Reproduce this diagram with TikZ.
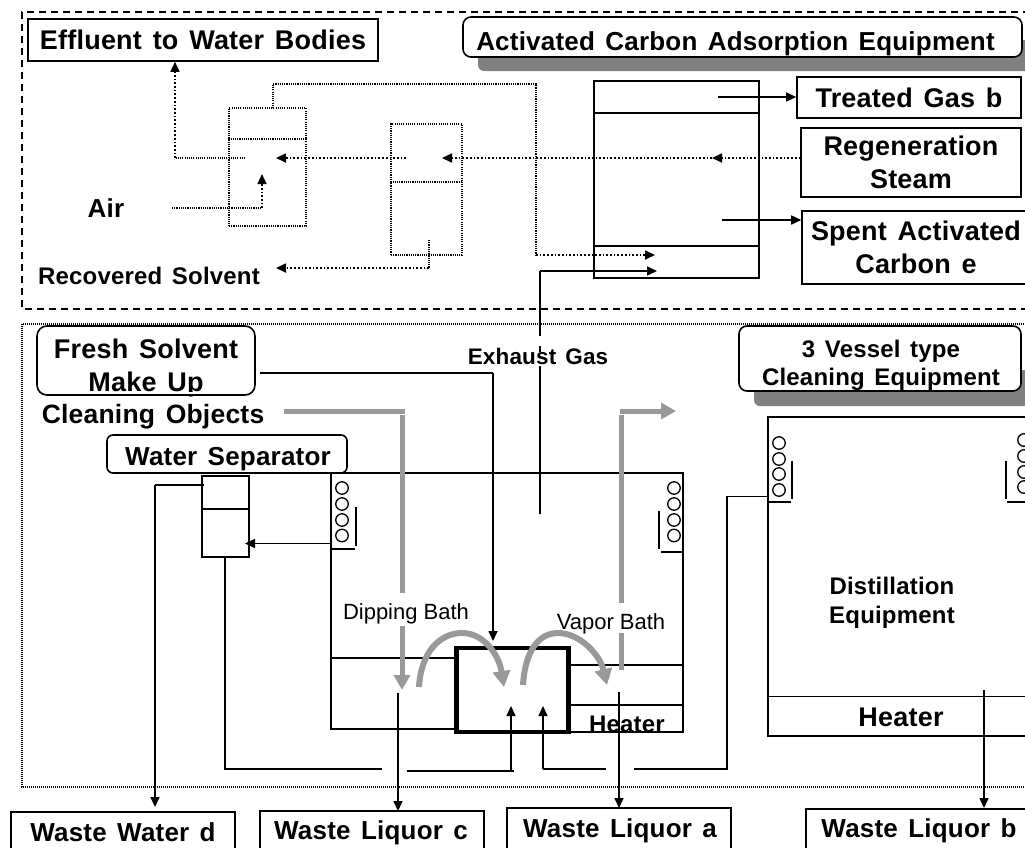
\documentclass[tikz,border=0pt]{standalone}
\usepackage{fontspec}
\setmainfont{Liberation Sans}
\newfontfamily\labelfont[LetterSpace=0.8,WordSpace=1.4]{Liberation Sans}
\usetikzlibrary{arrows.meta}
\definecolor{flowgray}{RGB}{153, 153, 153}
\definecolor{shadowgray}{RGB}{128, 128, 128}
\tikzset{
  lab/.style 2 args={font=\labelfont\bfseries\fontsize{#1}{#2}\selectfont, inner sep=0pt, align=center},
  plainlab/.style={font=\fontsize{22}{26}\selectfont, inner sep=0pt},
  plainbox/.style={draw, line width=1.6pt, fill=white, inner sep=0pt},
  roundbox/.style={plainbox, rounded corners=8pt},
  vessel/.style={draw, line width=1.6pt, inner sep=0pt},
  dotvessel/.style={draw, line width=1.1pt, inner sep=0pt, dash pattern=on 1.1pt off 1.1pt},
  pipe/.style={line width=1.6pt},
  flow/.style={line width=1.6pt, -{Triangle[length=10pt,width=9pt]}},
  thindot/.style={line width=1.1pt, dash pattern=on 1.1pt off 1.1pt},
  flowdot/.style={line width=1.7pt, dash pattern=on 1.7pt off 2pt, -{Triangle[length=10pt,width=9pt]}},
  graypipe/.style={flowgray, line width=5pt},
  grayflow/.style={graypipe, -{Triangle[length=15pt,width=16pt]}},
  grayarc/.style={flowgray, line width=6pt, -{Triangle[length=16pt,width=17pt]}},
  coil/.style={draw, circle, line width=1.3pt, minimum size=12.5pt, inner sep=0pt},
}

\begin{document}
\begin{tikzpicture}[x=1pt, y=-1pt]
  \useasboundingbox (0,0) rectangle (1025,847);
  \clip (0,0) rectangle (1025,847);
  % Frames of the two plant sections
  \draw[line width=1.1pt, dash pattern=on 7pt off 5pt] (1030,12) -- (22,12) -- (22,309) -- (1030,309);
  \draw[line width=1.1pt, dash pattern=on 1pt off 1pt] (1030,324) -- (22,324) -- (22,787) -- (1030,787);
  % Section titles with their shadows
  \fill[shadowgray, rounded corners=6pt] (478,40) rectangle (1040,71);
  \node[roundbox, minimum width=559pt, minimum height=40pt] (activated) at (742.5,37) {};
  \node[lab={26}{33}] (activatedtext) at (735.5,43.5) {Activated Carbon Adsorption Equipment};
  \fill[shadowgray, rounded corners=6pt] (754,370) rectangle (1040,406);
  \node[roundbox, minimum width=282pt, minimum height=65pt] (vesseltype) at (880,358.5) {};
  \node[lab={24}{28}] (vesseltypetext) at (881,365) {3 Vessel type\\Cleaning Equipment};
  % Outlet boxes, upper section
  \node[plainbox, lab={27}{33}, minimum width=350pt, minimum height=42pt] (effluent) at (203,40) {Effluent to Water Bodies};
  \node[plainbox, lab={27}{33}, minimum width=224pt, minimum height=41pt] (treated) at (909,97.5) {Treated Gas b};
  \node[plainbox, lab={27}{33}, minimum width=220pt, minimum height=69pt] (regen) at (911,162.5) {Regeneration\\[0.3pt]Steam};
  \node[plainbox, lab={27}{33}, minimum width=228pt, minimum height=73pt] (spent) at (916,247.5) {Spent Activated\\Carbon e};
  % Adsorber and the two dotted vessels
  \node[vessel, minimum width=165pt, minimum height=197pt] (adsorber) at (676.5,179.5) {};
  \draw[pipe] (adsorber.west |- 0,113) -- (adsorber.east |- 0,113);
  \draw[pipe] (adsorber.west |- 0,246) -- (adsorber.east |- 0,246);
  \node[dotvessel, minimum width=77pt, minimum height=118pt] (scrubber) at (267.5,167) {};
  \draw[thindot] (scrubber.west |- 0,139) -- (scrubber.east |- 0,139);
  \node[dotvessel, minimum width=71pt, minimum height=131pt] (condenser) at (426.5,189.5) {};
  \draw[thindot] (condenser.west |- 0,182) -- (condenser.east |- 0,182);
  % Free labels, upper section
  \node[lab={26}{30}] (air) at (106,208) {Air};
  \node[lab={24}{28}] (recovered) at (149,276) {Recovered Solvent};
  % Dotted gas and steam lines
  \coordinate (scrubout) at (245,158);
  \coordinate (scrubin) at (276,158);
  \coordinate (condout) at (406,158);
  \coordinate (condin) at (442,158);
  \coordinate (regentip) at (712,158);
  \draw[flowdot] (regen.west |- regentip) -- (regentip);
  \draw[flowdot] (regentip) -- (condin);
  \draw[flowdot] (condout) -- (scrubin);
  \draw[thindot] (scrubout) -- (175,158);
  \draw[flowdot] (175,158) -- (effluent.south -| 175,0);
  \coordinate (airend) at (172,208);
  \draw[thindot] (airend) -- (262,208);
  \draw[flowdot] (262,208) -- (262,174);
  \coordinate (solventtop) at (429,240);
  \coordinate (solventtip) at (276,268);
  \draw[thindot] (solventtop) -- (429,268);
  \draw[flowdot] (429,268) -- (solventtip);
  \coordinate (recycletip) at (655,255);
  \draw[thindot] (273,108) -- (273,84) -- (536,84) -- (536,255);
  \draw[flowdot] (536,255) -- (recycletip);
  % Solid lines at the adsorber
  \coordinate (treatedfrom) at (718,97);
  \draw[flow] (treatedfrom) -- (treated.west |- treatedfrom);
  \coordinate (spentfrom) at (722,220);
  \draw[flow] (spentfrom) -- (spent.west |- spentfrom);
  \coordinate (exhaustbase) at (540,514);
  \coordinate (exhausttop) at (540,271);
  \coordinate (exhausttip) at (657,271);
  \draw[pipe] (exhaustbase) -- (540,366);
  \draw[pipe] (540,336) -- (exhausttop);
  \draw[pipe] (540,346) -- (540,352);
  \draw[flow] (exhausttop) -- (exhausttip);
  \node[lab={22.5}{26}] (exhaust) at (538,356) {Exhaust Gas};
  % Cleaning tank
  \node[vessel, minimum width=352pt, minimum height=259pt] (tank) at (507,602.5) {};
  \fill[white] (329,730) rectangle (455,740);
  \draw[pipe] (330.2,729) -- (456,729);
  \draw[pipe] (331,658) -- (456,658);
  \draw[pipe] (570,665) -- (683,665);
  \draw[pipe] (570,705) -- (683,705);
  \node[lab={24}{28}] (tankheater) at (627,724) {Heater};
  \node[plainlab] (dipping) at (406,614) {Dipping Bath};
  \node[plainlab] (vapor) at (611,624) {Vapor Bath};
  % Coils of the tank
  \foreach \y/\n in {488/a, 504/b, 520/c, 535.5/d} {
    \node[coil] (coilL\n) at (342,\y) {};
    \node[coil] (coilR\n) at (674,\y) {};
  }
  \draw[pipe] (356,507) -- (356,546);
  \draw[pipe] (331,549) -- (355,549);
  \draw[pipe] (659,511) -- (659,549);
  \draw[pipe] (661,552) -- (683,552);
  % Heavy centre bath
  \node[draw, line width=4.5pt, minimum width=112pt, minimum height=84pt, inner sep=0pt] (bath) at (512.5,690) {};
  % Water separator
  \node[roundbox, lab={26}{30}, minimum width=240pt, minimum height=38pt, rounded corners=6pt] (separatorbox) at (227,454) {};
  \node[lab={26}{30}] (separatortext) at (228,459) {Water Separator};
  \node[vessel, minimum width=47pt, minimum height=81pt] (separator) at (225.5,516.5) {};
  \draw[pipe] (separator.west |- 0,509) -- (separator.east |- 0,509);
  % Fresh solvent and cleaning objects
  \node[roundbox, lab={27}{33}, minimum width=218pt, minimum height=69pt, rounded corners=10pt] (fresh) at (146,360.5) {};
  \node[lab={27}{33}] (freshtext) at (146,368.5) {Fresh Solvent\\Make Up};
  \fill[white] (60,392) rectangle (240,394);
  \coordinate (freshout) at (260,373);
  \draw[pipe] (freshout) -- (493,373);
  \draw[flow] (493,373) -- (493,641);
  \node[lab={26.5}{33}] (objects) at (153,417) {Cleaning Objects};
  % Work path through the baths
  \draw[graypipe] (284,411) -- (405,411);
  \draw[graypipe] (402,415) -- (402,593);
  \draw[grayflow] (402,626) -- (402,690);
  \draw[graypipe] (621,670) -- (621,633);
  \draw[graypipe] (621,603) -- (621,415);
  \draw[grayflow] (620,411) -- (676,411);
  \draw[grayarc] (419,687) .. controls (421,652) and (440,633) .. (462,633) .. controls (484,633) and (499,655) .. (504,687);
  \draw[grayarc] (523,685) .. controls (525,652) and (538,633) .. (558,633) .. controls (580,633) and (600,655) .. (607,685);
  % Distillation equipment
  \node[vessel, minimum width=280pt, minimum height=319pt] (still) at (908,576.5) {};
  \draw[pipe] (768,696.5) -- (1030,696.5);
  \node[lab={24}{29}] (stilltext) at (892,603) {Distillation\\Equipment};
  \node[lab={27}{33}] (stillheater) at (901,717) {Heater};
  \foreach \y/\n in {443/a, 459/b, 474/c, 490/d} {
    \node[coil] (coilS\n) at (779,\y) {};
  }
  \foreach \y/\n in {440/a, 456/b, 472/c, 487/d} {
    \node[coil] (coilT\n) at (1024,\y) {};
  }
  \draw[pipe] (792,460.5) -- (792,499);
  \draw[pipe] (769,502) -- (791,502);
  \draw[pipe] (1006,460.5) -- (1006,499);
  \draw[pipe] (1007,502) -- (1026,502);
  % Waste boxes along the bottom
  \node[plainbox, minimum width=224pt, minimum height=40pt] (wasted) at (123,832) {};
  \node[plainbox, minimum width=224pt, minimum height=42pt] (wastec) at (372,832) {};
  \node[plainbox, minimum width=224pt, minimum height=42pt] (wastea) at (619,829) {};
  \node[plainbox, minimum width=226pt, minimum height=40pt] (wasteb) at (919,829) {};
  \node[lab={26}{30}] (wastedtext) at (123,832) {Waste Water d};
  \node[lab={26}{30}] (wastectext) at (371,833) {Waste Liquor c};
  \node[lab={26}{30}] (wasteatext) at (620,831) {Waste Liquor a};
  \node[lab={26}{30}] (wastebtext) at (919,831) {Waste Liquor b};
  % Condensate returns
  \coordinate (overflow) at (331,543.5);
  \draw[flow] (overflow) -- (245,543.5);
  \coordinate (waterout) at (204,485);
  \draw[pipe] (waterout) -- (155,485);
  \draw[flow] (155,485) -- (155,807);
  \draw[pipe] (225,557) -- (225,769) -- (382,769);
  \draw[pipe] (407,771) -- (514,771);
  \coordinate (returnA) at (511,771);
  \draw[flow] (returnA) -- (511,706);
  \coordinate (returnB) at (543,769);
  \draw[flow] (returnB) -- (543,706);
  \draw[pipe] (returnB) -- (606,769);
  \draw[pipe] (634,769) -- (727,769) -- (727,496.5) -- (769,496.5);
  % Waste liquor drains
  \coordinate (drainc) at (398,693);
  \draw[flow] (drainc) -- (398,811);
  \coordinate (draina) at (619,692);
  \draw[flow] (draina) -- (619,808);
  \coordinate (drainb) at (984,690);
  \draw[flow] (drainb) -- (984,808);
\end{tikzpicture}
\end{document}
